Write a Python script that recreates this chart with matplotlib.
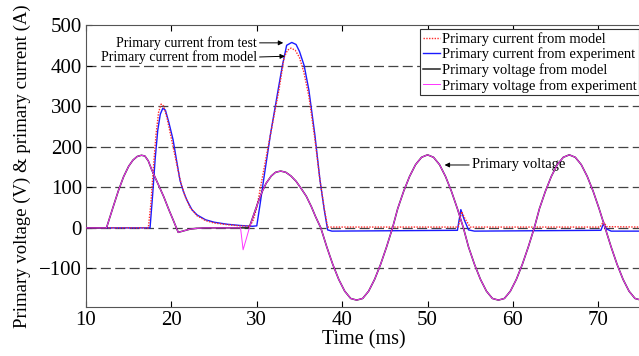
import matplotlib
matplotlib.use("Agg")
import matplotlib.pyplot as plt

plt.rcParams["font.family"] = ["Liberation Serif", "DejaVu Serif"]

# primary voltage (model); experiment follows it except for the switching dip
V_T = [10, 12.4, 13.2, 13.8, 14.4, 15.0, 15.5, 16.0, 16.5, 16.9, 17.3, 17.7, 18.4, 19.1,
       19.7, 20.2, 20.8, 21.5, 22.2, 23.0, 24.0, 29.1, 29.6, 30.1, 30.6, 31.1, 31.7, 32.2,
       32.8, 33.4, 34.0, 34.6, 35.2, 35.8, 36.4, 36.9, 37.5, 38.2, 38.9, 39.6, 40.3, 41.0,
       41.7, 42.4, 43.1, 43.8, 44.5, 45.2, 45.9, 46.5, 47.2, 47.9, 48.6, 49.3, 50.0, 50.7,
       51.4, 52.1, 52.8, 53.5, 54.2, 54.8, 55.5, 56.2, 56.9, 57.6, 58.3, 59.0, 59.7, 60.4,
       61.1, 61.8, 62.5, 63.1, 63.8, 64.5, 65.2, 65.9, 66.6, 67.3, 68.0, 68.7, 69.4, 70.1,
       70.8, 71.5, 72.2, 72.9, 73.6, 74.3, 75.0]
V_MODEL = [0, 0, 53, 92, 126, 152, 167, 176, 179, 177, 165, 143, 110, 77,
           45, 20, -11, -7, -3, -1, 0, 0, 30, 60, 88, 110, 128, 137,
           140, 137, 128, 115, 97, 78, 52, 27, 0, -47, -90, -127, -156, -174,
           -178, -174, -156, -127, -90, -47, 0, 47, 90, 127, 156, 174, 180, 174,
           156, 127, 90, 47, 0, -47, -90, -127, -156, -174, -178, -174, -156, -127,
           -90, -47, 0, 47, 90, 127, 156, 174, 180, 174, 156, 127, 90, 47,
           0, -47, -90, -127, -156, -174, -178]
DIP_T = [24.0, 28.1, 28.4, 28.8, 29.2]
DIP_V = [0, 0, -54, -25, 5]

# primary current
I_MODEL_T = [10, 17.3, 17.6, 17.9, 18.2, 18.5, 18.8, 19.1, 19.5, 19.9, 20.3, 20.7, 21.1,
             21.6, 22.2, 23.0, 24.0, 25.0, 26.5, 28.0, 29.2, 29.6, 30.0, 30.6, 31.6, 32.6,
             33.2, 33.6, 34.0, 34.5, 35.0, 35.5, 36.1, 36.8, 37.4, 37.9, 38.3, 39.0, 53.6,
             54.0, 54.4, 55.0, 70.2, 70.6, 71.0, 75.0]
I_MODEL = [0, 0, 60, 150, 230, 285, 305, 300, 270, 230, 190, 150, 112,
           78, 50, 30, 18, 12, 8, 5, 4, 20, 50, 118, 230, 340,
           420, 438, 443, 438, 420, 385, 325, 220, 118, 48, 2, 2, 2,
           40, 22, 2, 2, 15, 3, 2]
I_EXP_T = [10, 17.5, 17.8, 18.1, 18.4, 18.7, 19.0, 19.3, 19.7, 20.2, 20.6, 21.0, 21.4,
           21.8, 22.4, 23.0, 24.0, 25.0, 26.5, 28.0, 29.5, 30.0, 30.4, 30.8, 31.6, 32.5,
           33.0, 33.5, 34.1, 34.6, 35.0, 35.55, 36.1, 36.8, 37.4, 37.9, 38.3, 38.8, 53.5,
           53.9, 54.3, 54.8, 55.5, 70.3, 70.6, 71.0, 71.5, 75.0]
I_EXP = [0, 0, 80, 170, 240, 280, 295, 290, 260, 217, 167, 118, 90,
         69, 45, 32, 20, 14, 9, 6, 4, 5, 60, 118, 230, 340,
         400, 450, 457, 452, 435, 400, 340, 230, 118, 45, -5, -8, -6,
         45, 20, -5, -8, -6, 10, -3, -8, -8]

GRID_Y = [-100, 0, 100, 200, 300, 400]

fig = plt.figure(figsize=(6.39, 3.56), dpi=100)
ax = fig.add_axes([86 / 639, 49 / 356, 555 / 639, 282 / 356])

for y in GRID_Y:
    ax.axhline(y, color="#444444", lw=0.9, ls=(0, (8, 3.5)), zorder=1)

ax.plot(I_EXP_T, I_EXP, color="#1a1aff", lw=1.0, zorder=2, label="Primary current from experiment")
ax.plot(I_MODEL_T, I_MODEL, color="#ff2a2a", lw=1.0, ls=(0, (1, 1)), zorder=3,
        label="Primary current from model")
ax.plot(V_T, V_MODEL, color="#222222", lw=1.1, zorder=4, label="Primary voltage from model")
# experiment voltage: model trace plus the dip before switching
v_exp_t = [t for t in V_T if t < DIP_T[0]] + DIP_T + [t for t in V_T if t > DIP_T[-1]]
v_exp = [v for t, v in zip(V_T, V_MODEL) if t < DIP_T[0]] + DIP_V + \
        [v for t, v in zip(V_T, V_MODEL) if t > DIP_T[-1]]
ax.plot(v_exp_t, v_exp, color="#ff33ff", lw=0.7, zorder=5, label="Primary voltage from experiment")

ax.set_xlim(10, 75)
ax.set_ylim(-195, 500)
ax.set_xticks(range(10, 80, 10))
ax.set_yticks(range(-100, 600, 100))
ax.tick_params(direction="in", top=True, right=False, labelsize=15, length=4, width=0.8, pad=3)
for s in ax.spines.values():
    s.set_color("#555555")
ax.spines["right"].set_visible(False)
ax.set_xlabel("Time (ms)", fontsize=14.5, labelpad=0)
ax.set_ylabel("Primary voltage (V) & primary current (A)", fontsize=13.5, labelpad=6)

h, l = ax.get_legend_handles_labels()
order = [1, 0, 2, 3]
leg = ax.legend([h[i] for i in order], [l[i] for i in order], loc="upper right",
                bbox_to_anchor=(0.997, 0.985), fontsize=10.5, handlelength=1.2,
                handletextpad=0.1, labelspacing=0.12, borderpad=0.2, borderaxespad=0,
                fancybox=False, framealpha=1)
leg.get_frame().set_edgecolor("#333333")
leg.get_frame().set_linewidth(0.8)

arrow = dict(arrowstyle="-|>", color="black", lw=0.7, mutation_scale=7, shrinkA=0, shrinkB=0,
             relpos=(1, 0.5))
ax.annotate("Primary current from test", xy=(33.1, 456), xytext=(30.0, 456), ha="right",
            va="center", fontsize=10, arrowprops=arrow)
ax.annotate("Primary current from model", xy=(33.3, 423), xytext=(30.0, 421), ha="right",
            va="center", fontsize=10, arrowprops=arrow)
ax.annotate("Primary voltage", xy=(52.0, 155), xytext=(55.2, 155), ha="left", va="center",
            fontsize=10.5, arrowprops=dict(arrow, relpos=(0, 0.5)))

fig.savefig("out.png", dpi=100)
